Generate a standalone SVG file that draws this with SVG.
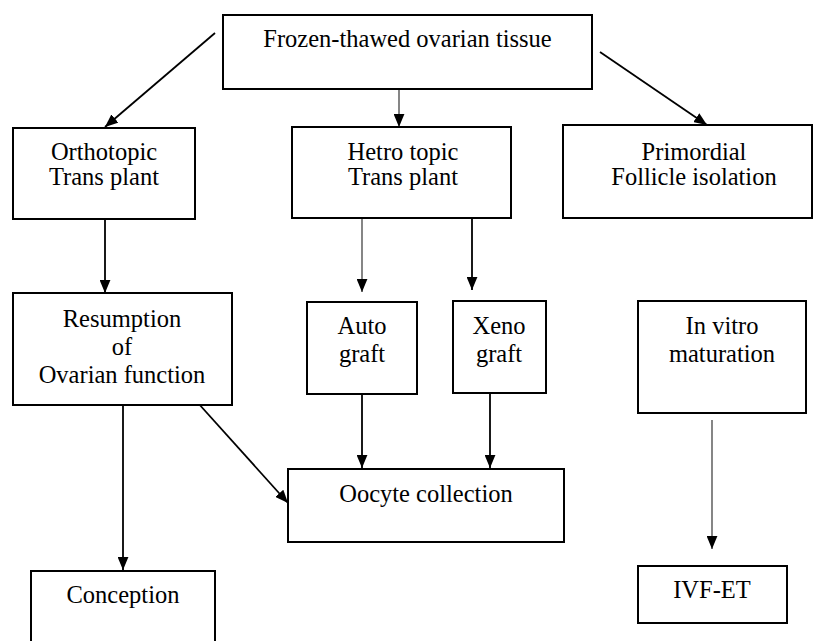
<svg xmlns="http://www.w3.org/2000/svg" width="814" height="641" viewBox="0 0 814 641">
<style>
.box{fill:#fff;stroke:#000;stroke-width:2}
.t{font-family:"Liberation Serif","Times New Roman",serif;font-size:24.5px;fill:#000;text-anchor:middle}
.c{fill:none;stroke:#000;stroke-width:1.8}
.c.thin{stroke:#222;stroke-width:1.1}
</style>
<defs>
<marker id="ah" markerUnits="userSpaceOnUse" markerWidth="13" markerHeight="11" refX="12" refY="5" orient="auto" viewBox="0 0 12 10">
<path d="M0,0 L12,5 L0,10 z" fill="#000"/>
</marker>
</defs>
<rect width="814" height="641" fill="#fff"/>
<g id="connectors">
<line class="c" x1="215" y1="33" x2="105" y2="127" marker-end="url(#ah)"/>
<line class="c thin" x1="399" y1="89" x2="399" y2="127" marker-end="url(#ah)"/>
<line class="c" x1="600" y1="52" x2="707" y2="125" marker-end="url(#ah)"/>
<line class="c" x1="105" y1="219" x2="105" y2="293" marker-end="url(#ah)"/>
<line class="c thin" x1="362" y1="218" x2="362" y2="292" marker-end="url(#ah)"/>
<line class="c" x1="472" y1="218" x2="472" y2="290" marker-end="url(#ah)"/>
<line class="c" x1="123" y1="405" x2="123" y2="570" marker-end="url(#ah)"/>
<line class="c" x1="198" y1="403" x2="288" y2="503" marker-end="url(#ah)"/>
<line class="c" x1="362" y1="394" x2="362" y2="468" marker-end="url(#ah)"/>
<line class="c" x1="490" y1="393" x2="490" y2="468" marker-end="url(#ah)"/>
<line class="c thin" x1="712" y1="420" x2="712" y2="549" marker-end="url(#ah)"/>
</g>
<g id="frozen">
<rect class="box" x="223" y="15" width="369" height="74"/>
<text class="t" x="407.5" y="47">Frozen-thawed ovarian tissue</text>
</g>
<g id="orthotopic">
<rect class="box" x="13" y="128" width="182" height="91"/>
<text class="t" x="104" y="160">Orthotopic</text>
<text class="t" x="104" y="185">Trans plant</text>
</g>
<g id="heterotopic">
<rect class="box" x="292" y="127" width="219" height="91"/>
<text class="t" x="403" y="160">Hetro topic</text>
<text class="t" x="403" y="185">Trans plant</text>
</g>
<g id="primordial">
<rect class="box" x="563" y="125" width="249" height="93"/>
<text class="t" x="694" y="160">Primordial</text>
<text class="t" x="694" y="185">Follicle isolation</text>
</g>
<g id="resumption">
<rect class="box" x="13" y="293" width="219" height="112"/>
<text class="t" x="122" y="327">Resumption</text>
<text class="t" x="122" y="355">of</text>
<text class="t" x="122" y="383">Ovarian function</text>
</g>
<g id="autograft">
<rect class="box" x="307" y="302" width="110" height="92"/>
<text class="t" x="362" y="334">Auto</text>
<text class="t" x="362" y="362">graft</text>
</g>
<g id="xenograft">
<rect class="box" x="453" y="301" width="93" height="92"/>
<text class="t" x="499" y="334">Xeno</text>
<text class="t" x="499" y="362">graft</text>
</g>
<g id="invitro">
<rect class="box" x="638" y="301" width="168" height="112"/>
<text class="t" x="722" y="334">In vitro</text>
<text class="t" x="722" y="362">maturation</text>
</g>
<g id="oocyte">
<rect class="box" x="288" y="469" width="276" height="73"/>
<text class="t" x="426" y="502">Oocyte collection</text>
</g>
<g id="conception">
<rect class="box" x="31" y="571" width="184" height="80"/>
<text class="t" x="123" y="603">Conception</text>
</g>
<g id="ivfet">
<rect class="box" x="638" y="566" width="149" height="57"/>
<text class="t" x="712" y="598">IVF-ET</text>
</g>
</svg>
